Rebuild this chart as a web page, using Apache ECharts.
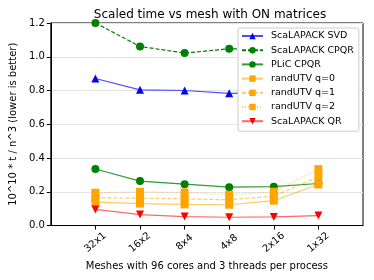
<!DOCTYPE html>
<html><head><meta charset="utf-8">
<script src="https://cdn.jsdelivr.net/npm/echarts@6/dist/echarts.min.js"></script>
<style>html,body{margin:0;padding:0;background:#fff}#c{width:374px;height:280px}</style>
</head><body><div id="c"></div>
<script>
var categories = ['32x1', '16x2', '8x4', '4x8', '2x16', '1x32'];
var scalapackSVD = [0.871, 0.804, 0.800, 0.783, 0.786, 0.795];
var scalapackCPQR = [1.200, 1.061, 1.022, 1.047, 1.045, 1.060];
var plicCPQR = [0.335, 0.263, 0.245, 0.227, 0.230, 0.249];
var randUTVq0 = [0.138, 0.130, 0.125, 0.123, 0.147, 0.243];
var randUTVq1 = [0.164, 0.162, 0.158, 0.152, 0.174, 0.289];
var randUTVq2 = [0.194, 0.200, 0.196, 0.182, 0.200, 0.334];
var scalapackQR = [0.095, 0.065, 0.053, 0.049, 0.051, 0.059];
var yTicks = [0, 0.2, 0.4, 0.6, 0.8, 1.0, 1.2];

function pts(arr){ return arr.map(function(v,i){ return [i, v]; }); }
var font = 'DejaVu Sans';
function mk(name, data, color, symbol, lineType, lineOpacity, rotate){
  return {
    name: name, type: 'line', data: pts(data),
    symbol: symbol, symbolSize: 8, symbolRotate: rotate || 0,
    itemStyle: {color: color},
    lineStyle: {color: color, width: 1.2, type: lineType, opacity: lineOpacity},
    emphasis: {disabled: true}, animation: false, z: 2
  };
}
var chart = echarts.init(document.getElementById('c'));
chart.setOption({
  backgroundColor: '#fff',
  title: {
    text: 'Scaled time vs mesh with ON matrices', left: 205, top: 4, textAlign: 'center',
    textStyle: {fontFamily: font, fontSize: 12, fontWeight: 'normal', color: '#000'}
  },
  grid: {left: 47, right: 11, top: 23, bottom: 54.5, show: true, borderColor: '#000', borderWidth: 1, containLabel: false},
  legend: {
    orient: 'vertical', left: 238, top: 28, padding: [2, 5, 4, 3], z: 20, zlevel: 1,
    itemWidth: 21, itemHeight: 8, itemGap: 2.2,
    backgroundColor: 'rgba(255,255,255,0.95)', borderColor: '#cccccc', borderWidth: 1, borderRadius: 2,
    textStyle: {fontFamily: font, fontSize: 9.5, color: '#000', lineHeight: 12, padding: [0,0,0,3]},
    data: ['ScaLAPACK SVD', 'ScaLAPACK CPQR', 'PLiC CPQR', 'randUTV q=0', 'randUTV q=1', 'randUTV q=2', 'ScaLAPACK QR']
  },
  xAxis: {
    type: 'value', min: -1, max: 6, interval: 1,
    name: 'Meshes with 96 cores and 3 threads per process', nameLocation: 'middle', nameGap: 36,
    nameTextStyle: {fontFamily: font, fontSize: 10, color: '#000'},
    axisLine: {show: true, onZero: false, lineStyle: {color: '#000', width: 1}},
    axisTick: {show: true, length: 4, lineStyle: {color: '#000'}, customValues: [0,1,2,3,4,5]},
    axisLabel: {
      customValues: [0,1,2,3,4,5], rotate: 40, align: 'center', verticalAlign: 'middle', margin: 17,
      fontFamily: font, fontSize: 10, color: '#000',
      formatter: function(v){ return categories[Math.round(v)] || ''; }
    },
    splitLine: {show: false}
  },
  yAxis: {
    type: 'value', min: 0, max: 1.2, interval: 0.2,
    name: '10^10 * t / n^3 (lower is better)', nameLocation: 'middle', nameGap: 31, nameRotate: 90,
    nameTextStyle: {fontFamily: font, fontSize: 10, color: '#000'},
    axisLine: {show: true, onZero: false, lineStyle: {color: '#000', width: 1}},
    axisTick: {show: true, length: 4, lineStyle: {color: '#000'}},
    axisLabel: {fontFamily: font, fontSize: 10, color: '#000', margin: 6,
      customValues: yTicks,
      formatter: function(v){ return v.toFixed(1); }},
    splitLine: {show: true, lineStyle: {color: '#e3e3e3', width: 1}}
  },
  series: [
    mk('ScaLAPACK SVD', scalapackSVD, '#0000ff', 'triangle', 'solid', 0.7),
    mk('ScaLAPACK CPQR', scalapackCPQR, '#008000', 'circle', [4, 2], 1),
    mk('PLiC CPQR', plicCPQR, '#008000', 'circle', 'solid', 0.8),
    mk('randUTV q=0', randUTVq0, '#ffa500', 'rect', 'solid', 0.6),
    mk('randUTV q=1', randUTVq1, '#ffa500', 'rect', [4, 2], 0.6),
    mk('randUTV q=2', randUTVq2, '#ffa500', 'rect', [1, 2], 0.6),
    mk('ScaLAPACK QR', scalapackQR, '#ff0000', 'triangle', 'solid', 0.6, 180)
  ]
});
</script></body></html>
